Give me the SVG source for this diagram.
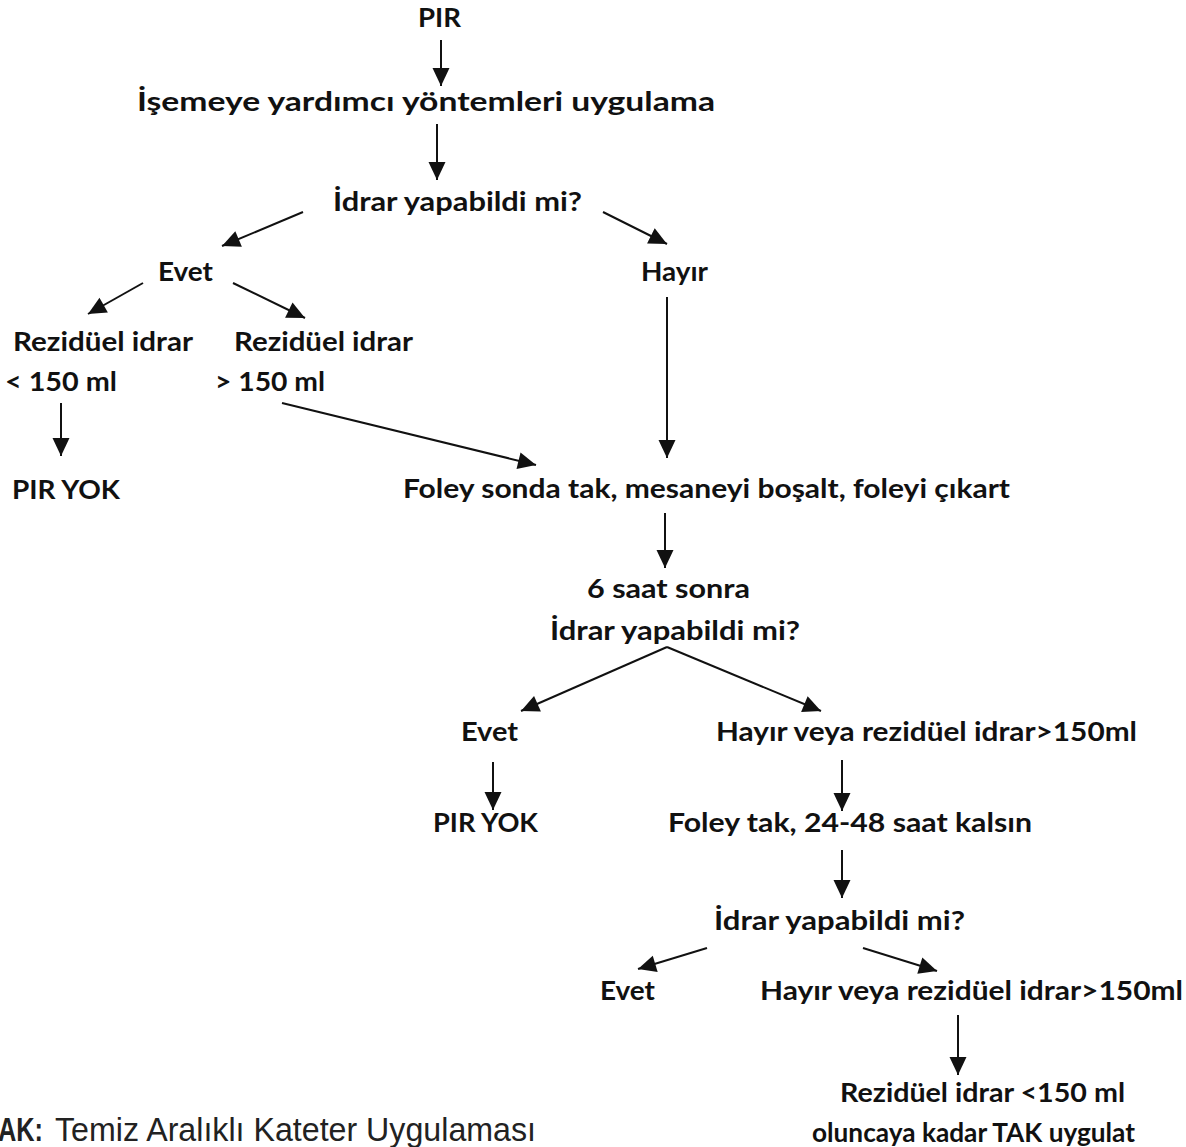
<svg xmlns="http://www.w3.org/2000/svg" width="1186" height="1147" viewBox="0 0 1186 1147">
<style>
.t{font-family:Lato,"Open Sans","Liberation Sans",sans-serif;font-weight:bold;font-size:27px;fill:#111}
.n{font-family:"Liberation Sans",Arial,sans-serif;font-size:33px;fill:#222}
.c line{stroke:#111;stroke-width:2}
</style>
<defs>
<marker id="ah" markerUnits="userSpaceOnUse" markerWidth="20" markerHeight="20" viewBox="0 -10 19 20" refX="18" refY="0" orient="auto">
<path d="M0,-8.5 L18,0 L0,8.5 z" fill="#111"/>
</marker>
</defs>
<rect width="1186" height="1147" fill="#fff"/>
<g id="n1"><text class="t" x="418" y="27" textLength="43" lengthAdjust="spacingAndGlyphs">PIR</text></g>
<g id="n2"><text class="t" x="137" y="111" textLength="578" lengthAdjust="spacingAndGlyphs">İşemeye yardımcı yöntemleri uygulama</text></g>
<g id="n3"><text class="t" x="333" y="211" textLength="249" lengthAdjust="spacingAndGlyphs">İdrar yapabildi  mi?</text></g>
<g id="n4"><text class="t" x="158" y="281" textLength="55" lengthAdjust="spacingAndGlyphs">Evet</text></g>
<g id="n5"><text class="t" x="641" y="281" textLength="67" lengthAdjust="spacingAndGlyphs">Hayır</text></g>
<g id="n6"><text class="t" x="13" y="351" textLength="180" lengthAdjust="spacingAndGlyphs">Rezidüel idrar</text><text class="t" x="5" y="391" textLength="112" lengthAdjust="spacingAndGlyphs">&lt; 150 ml</text></g>
<g id="n7"><text class="t" x="234" y="351" textLength="179" lengthAdjust="spacingAndGlyphs">Rezidüel idrar</text><text class="t" x="215" y="391" textLength="110" lengthAdjust="spacingAndGlyphs">&gt; 150 ml</text></g>
<g id="n8"><text class="t" x="12" y="499" textLength="108" lengthAdjust="spacingAndGlyphs">PIR YOK</text></g>
<g id="n9"><text class="t" x="403" y="498" textLength="607" lengthAdjust="spacingAndGlyphs">Foley sonda tak, mesaneyi boşalt, foleyi çıkart</text></g>
<g id="n10"><text class="t" x="587" y="598" textLength="163" lengthAdjust="spacingAndGlyphs">6 saat sonra</text><text class="t" x="550" y="640" textLength="250" lengthAdjust="spacingAndGlyphs">İdrar yapabildi  mi?</text></g>
<g id="n11"><text class="t" x="461" y="741" textLength="57" lengthAdjust="spacingAndGlyphs">Evet</text></g>
<g id="n12"><text class="t" x="716" y="741" textLength="421" lengthAdjust="spacingAndGlyphs">Hayır veya rezidüel idrar&gt;150ml</text></g>
<g id="n13"><text class="t" x="433" y="832" textLength="105" lengthAdjust="spacingAndGlyphs">PIR YOK</text></g>
<g id="n14"><text class="t" x="668" y="832" textLength="364" lengthAdjust="spacingAndGlyphs">Foley tak, 24-48 saat kalsın</text></g>
<g id="n15"><text class="t" x="714" y="930" textLength="251" lengthAdjust="spacingAndGlyphs">İdrar yapabildi  mi?</text></g>
<g id="n16"><text class="t" x="600" y="1000" textLength="55" lengthAdjust="spacingAndGlyphs">Evet</text></g>
<g id="n17"><text class="t" x="760" y="1000" textLength="423" lengthAdjust="spacingAndGlyphs">Hayır  veya rezidüel idrar&gt;150ml</text></g>
<g id="n18"><text class="t" x="840" y="1102" textLength="285" lengthAdjust="spacingAndGlyphs">Rezidüel idrar &lt;150 ml</text><text class="t" x="812" y="1142" textLength="323" lengthAdjust="spacingAndGlyphs">oluncaya  kadar TAK uygulat</text></g>
<g id="note"><text class="n" x="-2" y="1141"><tspan font-weight="bold" textLength="45" lengthAdjust="spacingAndGlyphs">AK:</tspan></text><text class="n" x="55" y="1141" textLength="481" lengthAdjust="spacingAndGlyphs">Temiz Aralıklı Kateter Uygulaması</text></g>
<g id="connectors" class="c">
<line x1="441" y1="40" x2="441" y2="86" marker-end="url(#ah)"/>
<line x1="437" y1="124" x2="437" y2="180" marker-end="url(#ah)"/>
<line x1="303" y1="212" x2="222" y2="246" marker-end="url(#ah)"/>
<line x1="603" y1="212" x2="667" y2="244" marker-end="url(#ah)"/>
<line x1="143" y1="283" x2="88" y2="314" marker-end="url(#ah)"/>
<line x1="233" y1="283" x2="305" y2="318" marker-end="url(#ah)"/>
<line x1="667" y1="297" x2="667" y2="458" marker-end="url(#ah)"/>
<line x1="61" y1="403" x2="61" y2="456" marker-end="url(#ah)"/>
<line x1="282" y1="403" x2="536" y2="465" marker-end="url(#ah)"/>
<line x1="665" y1="513" x2="665" y2="568" marker-end="url(#ah)"/>
<line x1="667" y1="647" x2="521" y2="711" marker-end="url(#ah)"/>
<line x1="667" y1="647" x2="821" y2="711" marker-end="url(#ah)"/>
<line x1="493" y1="762" x2="493" y2="810" marker-end="url(#ah)"/>
<line x1="842" y1="760" x2="842" y2="811" marker-end="url(#ah)"/>
<line x1="842" y1="850" x2="842" y2="898" marker-end="url(#ah)"/>
<line x1="707" y1="948" x2="638" y2="969" marker-end="url(#ah)"/>
<line x1="863" y1="948" x2="937" y2="971" marker-end="url(#ah)"/>
<line x1="958" y1="1015" x2="958" y2="1075" marker-end="url(#ah)"/>
</g>
</svg>
